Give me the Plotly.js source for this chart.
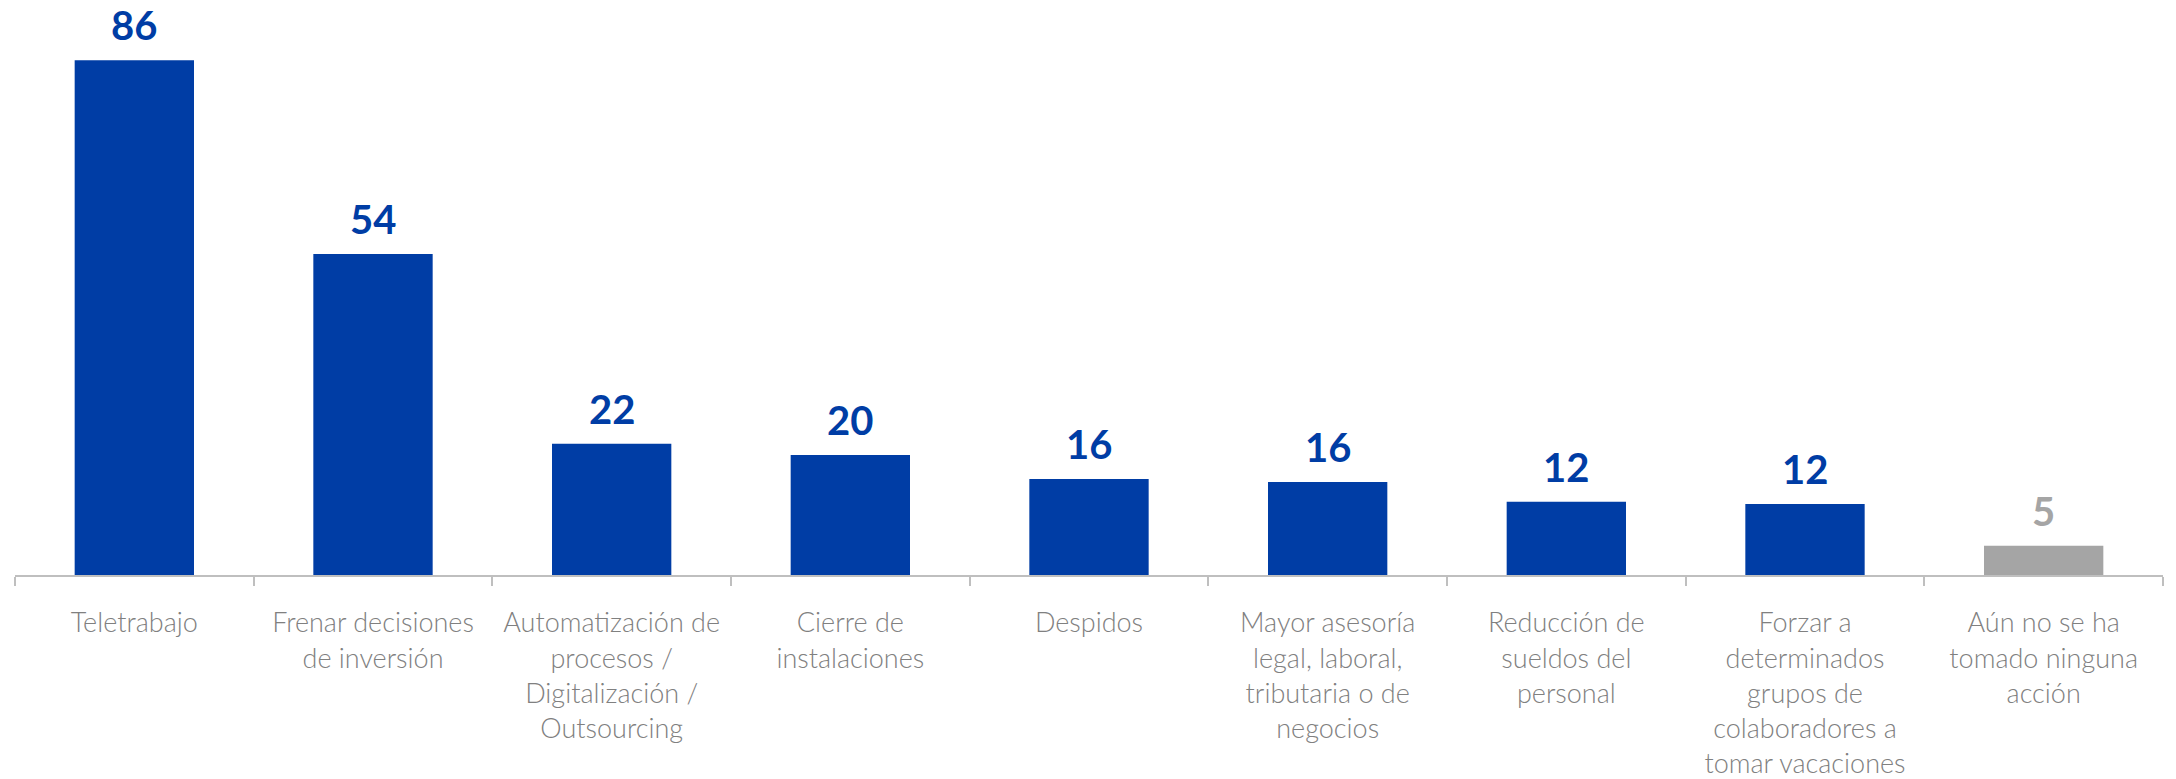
<!DOCTYPE html>
<html>
<head>
<meta charset="utf-8">
<script src="https://cdn.plot.ly/plotly-3.0.1.min.js"></script>
<style>html,body{margin:0;padding:0;background:#fff;}#chart{width:2176px;height:779px;}</style>
</head>
<body>
<div id="chart"></div>
<script>
const categories = [
  "Teletrabajo",
  "Frenar decisiones<br>de inversión",
  "Automatización de<br>procesos /<br>Digitalización /<br>Outsourcing",
  "Cierre de<br>instalaciones",
  "Despidos",
  "Mayor asesoría<br>legal, laboral,<br>tributaria o de<br>negocios",
  "Reducción de<br>sueldos del<br>personal",
  "Forzar a<br>determinados<br>grupos de<br>colaboradores a<br>tomar vacaciones",
  "Aún no se ha<br>tomado ninguna<br>acción"
];
const values = [86.3, 53.8, 22.0, 20.1, 16.1, 15.6, 12.3, 11.9, 4.9];
const labels = ["86", "54", "22", "20", "16", "16", "12", "12", "5"];
const barColors = ["#003DA5","#003DA5","#003DA5","#003DA5","#003DA5","#003DA5","#003DA5","#003DA5","#A5A5A5"];

const annotations = categories.map((c, i) => ({
  x: c, y: values[i], xref: 'x', yref: 'y',
  text: '<b>' + labels[i] + '</b>',
  showarrow: false, yanchor: 'bottom', yshift: 10, borderpad: 0,
  font: {family: 'Lato, sans-serif', size: 40, color: barColors[i]}
}));

const trace = {
  type: 'bar', x: categories, y: values,
  marker: {color: barColors},
  hoverinfo: 'skip'
};

const layout = {
  width: 2176, height: 779,
  margin: {l: 15, r: 13, t: 0, b: 204},
  paper_bgcolor: '#ffffff', plot_bgcolor: '#ffffff',
  bargap: 0.5,
  showlegend: false,
  xaxis: {
    type: 'category',
    showline: true, linecolor: '#BFBFBF', linewidth: 2,
    ticks: 'outside', tickson: 'boundaries', ticklen: 9, tickcolor: '#BFBFBF', tickwidth: 2,
    tickfont: {family: 'Lato, sans-serif', size: 27, color: '#808080', weight: 300},
    ticklabelstandoff: 23,
    tickangle: 0, automargin: false, showgrid: false, zeroline: false
  },
  yaxis: {
    visible: false, range: [0, 96.4], showgrid: false, zeroline: false
  },
  annotations: annotations
};

Plotly.newPlot('chart', [trace], layout, {staticPlot: true, displayModeBar: false});
</script>
</body>
</html>
